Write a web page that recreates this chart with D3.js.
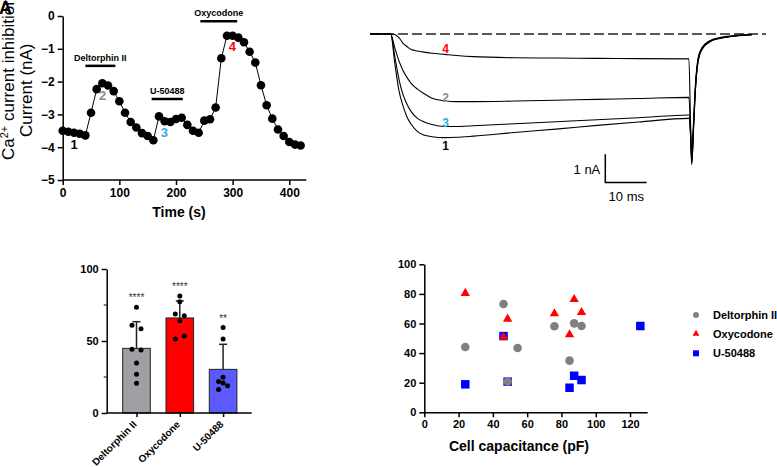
<!DOCTYPE html>
<html><head><meta charset="utf-8">
<script src="https://cdn.jsdelivr.net/npm/d3@7"></script>
<style>
body{margin:0;background:#fff;}
svg{display:block;font-family:"Liberation Sans",Arial,sans-serif;}
</style></head><body>
<svg id="c" width="777" height="467"></svg>
<script>
// ---------- Panel A: time course ----------
const timeS = [0,10,20,30,40,50,60,70,80,90,100,110,120,130,140,150,160,170,180,190,200,210,220,230,240,250,260,270,280,290,300,310,320,330,340,350,360,370,380,390,400,410,420];
const currentNA = [-3.50,-3.53,-3.56,-3.59,-3.64,-2.95,-2.23,-2.05,-2.12,-2.29,-2.60,-2.95,-3.23,-3.40,-3.57,-3.66,-3.79,-3.06,-3.21,-3.23,-3.14,-3.10,-3.32,-3.50,-3.56,-3.19,-3.15,-2.79,-1.29,-0.60,-0.60,-0.66,-0.80,-1.09,-1.42,-2.11,-2.72,-3.13,-3.46,-3.66,-3.84,-3.92,-3.95];
const drugNames = ["Deltorphin II","U-50488","Oxycodone"];
const drugStart = [40,157,243];
const drugEnd = [93,212,308];
const drugLevel = [-1.52,-2.53,-0.16];
const timeTicks = [0,100,200,300,400];
const currentTicks = [0,-1,-2,-3,-4,-5];
const markLabels = ["1","2","3","4"];
const markTimes = [20,70.6,179.3,299.4];
const markValues = [-4.04,-2.56,-3.68,-1.07];

// ---------- Panel B: current traces ----------
const traceTime = [-5,0,1,2,3,4,5,6.5,8,10,13,16,20,30,40,50,60,72.2,72.6,72.9,73.3,73.8,74.5,75.5,77.5,80,84,87.5];
const trace1 = [0,0,-1.05,-2.0,-2.55,-2.95,-3.2,-3.45,-3.57,-3.63,-3.66,-3.65,-3.61,-3.48,-3.36,-3.23,-3.11,-2.98,-3.6,-4.62,-3.45,-1.95,-0.92,-0.52,-0.26,-0.15,-0.06,-0.03];
const trace2 = [0,0,-0.5,-0.95,-1.3,-1.55,-1.75,-1.95,-2.1,-2.27,-2.36,-2.39,-2.39,-2.37,-2.34,-2.31,-2.28,-2.24,-3.4,-4.5,-3.3,-1.85,-0.85,-0.48,-0.24,-0.14,-0.05,-0.02];
const trace3 = [0,0,-0.8,-1.6,-2.15,-2.5,-2.75,-2.98,-3.1,-3.2,-3.27,-3.27,-3.24,-3.17,-3.1,-3.03,-2.96,-2.86,-3.5,-4.56,-3.38,-1.9,-0.88,-0.5,-0.25,-0.14,-0.06,-0.02];
const trace4 = [0,0,-0.02,-0.13,-0.33,-0.45,-0.55,-0.6,-0.64,-0.68,-0.72,-0.76,-0.8,-0.84,-0.85,-0.86,-0.87,-0.88,-3.1,-4.4,-3.2,-1.75,-0.8,-0.45,-0.22,-0.12,-0.05,-0.02];
const traceLabels = ["1","2","3","4"];
const traceLabelValues = [-3.94,-2.25,-3.12,-0.5];

// ---------- Panel C: bar chart ----------
const barCategories = ["Deltorphin II","Oxycodone","U-50488"];
const barMeans = [44.9,66.0,30.3];
const barSD = [18.5,11.8,17.4];
const barStars = ["****","****","**"];
const dotsDeltorphin = [73.4,60.9,58.5,44.2,43.8,34.7,26.9,20.6];
const dotsOxycodone = [81.2,77.3,68.7,67.6,64.1,53.5,51.4];
const dotsU50488 = [59.3,51.4,24.8,21.8,20.8,19.0,16.4];
const sideDeltorphin = [0,-1,1,-1,1,0,0,0];
const sideOxycodone = [0,0,-1,1,0,1,-1];
const sideU50488 = [0,0,0,-1,0,1,-1];
const barTicks = [0,50,100];

// ---------- Panel D: scatter ----------
const capDeltorphin = [23.9,46.2,54.4,75.9,87.4,91.7,84.7,48.6];
const inhDeltorphin = [44.1,73.2,43.4,58.1,60.1,58.3,34.9,20.7];
const capOxycodone = [23.9,48.6,46.2,75.9,87.4,91.7,84.7];
const inhOxycodone = [81.1,63.7,51.5,67.4,77.0,68.2,53.2];
const capU50488 = [23.9,46.2,48.6,84.7,87.4,91.7,126.0];
const inhU50488 = [18.9,51.5,20.7,16.6,24.7,21.8,58.3];
const capTicks = [0,20,40,60,80,100,120];
const inhTicks = [0,20,40,60,80,100];

const svg = d3.select("#c");
const FONT = '"Liberation Sans",Arial,sans-serif';
const fmtMinus = d => d < 0 ? "\u2212" + Math.abs(d) : String(d);

function styleAxis(g, fs){
  g.selectAll("path.domain").attr("stroke","#000").attr("stroke-width",1.5);
  g.selectAll(".tick line").attr("stroke","#000").attr("stroke-width",1.5);
  g.selectAll(".tick text").attr("font-family",FONT).attr("font-weight","bold").attr("font-size",fs).attr("fill","#000");
}

// ===== Panel A =====
const xT = d3.scaleLinear().domain([0,400]).range([62.7,289.3]);
const yT = d3.scaleLinear().domain([-5,0]).range([180,16]);
const gA = svg.append("g");
const axA_x = gA.append("g").attr("transform",`translate(0,${yT(-5)})`)
  .call(d3.axisBottom(xT).tickValues(timeTicks).tickSize(5).tickPadding(3).tickSizeOuter(0));
axA_x.select("path.domain").attr("d",`M${xT(0)},0H${xT(430)}`);
styleAxis(axA_x,12);
const axA_y = gA.append("g").attr("transform",`translate(${xT(0)},0)`)
  .call(d3.axisLeft(yT).tickValues(currentTicks).tickFormat(fmtMinus).tickSize(5).tickPadding(3).tickSizeOuter(0));
styleAxis(axA_y,12);

gA.append("path").datum(timeS.map((t,i)=>[t,currentNA[i]]))
  .attr("d",d3.line().x(d=>xT(d[0])).y(d=>yT(d[1])))
  .attr("fill","none").attr("stroke","#000").attr("stroke-width",1);
gA.selectAll("circle.tc").data(timeS.map((t,i)=>[t,currentNA[i]])).enter().append("circle")
  .attr("cx",d=>xT(d[0])).attr("cy",d=>yT(d[1])).attr("r",4.3).attr("fill","#000");

drugNames.forEach((n,i)=>{
  gA.append("line").attr("x1",xT(drugStart[i])).attr("x2",xT(drugEnd[i]))
    .attr("y1",yT(drugLevel[i])).attr("y2",yT(drugLevel[i])).attr("stroke","#000").attr("stroke-width",2.5);
  gA.append("text").attr("x",(xT(drugStart[i])+xT(drugEnd[i]))/2).attr("y",yT(drugLevel[i])-5)
    .attr("text-anchor","middle").attr("font-size",9).attr("font-weight","bold").text(n);
});
const markColors = ["#000","#8c8c8c","#29abe2","#ff0000"];
markLabels.forEach((m,i)=>{
  gA.append("text").attr("x",xT(markTimes[i])).attr("y",yT(markValues[i])).attr("text-anchor","middle")
    .attr("font-size",13).attr("font-weight","bold").attr("fill",markColors[i]).text(m);
});
gA.append("text").attr("x",179).attr("y",217).attr("text-anchor","middle")
  .attr("font-size",14).attr("font-weight","bold").text("Time (s)");
// overlapped y labels (as in reference)
gA.append("text").attr("transform","translate(13.5,160) rotate(-90)").attr("font-size",17).attr("fill","#000")
  .html('Ca<tspan dy="-6" font-size="11">2+</tspan><tspan dy="6"> current inhibition (%)</tspan>');
gA.append("text").attr("transform","translate(31.5,137) rotate(-90)").attr("font-size",17).attr("fill","#000")
  .text("Current (nA)");
gA.append("text").attr("x",-1).attr("y",14).attr("font-size",18).attr("font-weight","bold").text("A");

// ===== Panel B =====
const xR = d3.scaleLinear().domain([0,10]).range([390.7,432]);
const yR = d3.scaleLinear().domain([-1,0]).range([62.3,34]);
const gB = svg.append("g");
gB.append("line").attr("x1",370).attr("x2",766).attr("y1",yR(0)).attr("y2",yR(0))
  .attr("stroke","#222").attr("stroke-width",1.5).attr("stroke-dasharray","10,4");
const traces = [trace1,trace2,trace3,trace4];
const lineR = d3.line().x(d=>xR(d[0])).y(d=>yR(d[1])).curve(d3.curveMonotoneX);
traces.forEach(tr=>{
  gB.append("path").datum(traceTime.map((t,i)=>[t,tr[i]])).attr("d",lineR)
    .attr("fill","none").attr("stroke","#000").attr("stroke-width",1.1);
});
traceLabels.forEach((l,i)=>{
  gB.append("text").attr("x",xR(13.3)).attr("y",yR(traceLabelValues[i])+4.5).attr("text-anchor","middle")
    .attr("font-size",12).attr("font-weight","bold").attr("fill",markColors[i]).text(l);
});
// scale bar
const sbX = 605.3, sbY = yR(-5.25);
gB.append("path").attr("d",`M${sbX},${sbY-(yR(-1)-yR(0))}V${sbY}H${sbX+(xR(10)-xR(0))}`)
  .attr("fill","none").attr("stroke","#000").attr("stroke-width",1.5);
gB.append("text").attr("x",sbX-5).attr("y",sbY-9).attr("text-anchor","end").attr("font-size",13).text("1 nA");
gB.append("text").attr("x",sbX+21).attr("y",sbY+18).attr("text-anchor","middle").attr("font-size",13).text("10 ms");

// ===== Panel C =====
const xB = d3.scalePoint().domain(barCategories).range([136.5,223.1]);
const yB = d3.scaleLinear().domain([0,100]).range([413,269]);
const gC = svg.append("g");
const barColors = ["#9f9fa5","#ff0000","#5a5aff"];
const bw = 27.6;
const dotSets = [[dotsDeltorphin,sideDeltorphin],[dotsOxycodone,sideOxycodone],[dotsU50488,sideU50488]];
barCategories.forEach((c,i)=>{
  const cx = xB(c);
  gC.append("line").attr("x1",cx).attr("x2",cx).attr("y1",yB(barMeans[i])).attr("y2",yB(barMeans[i]+barSD[i]))
    .attr("stroke","#222").attr("stroke-width",1.5);
  gC.append("line").attr("x1",cx-4).attr("x2",cx+4).attr("y1",yB(barMeans[i]+barSD[i])).attr("y2",yB(barMeans[i]+barSD[i]))
    .attr("stroke","#222").attr("stroke-width",1.5);
  gC.append("rect").attr("x",cx-bw/2).attr("y",yB(barMeans[i])).attr("width",bw).attr("height",yB(0)-yB(barMeans[i]))
    .attr("fill",barColors[i]).attr("stroke","#222").attr("stroke-width",1);
  const top = Math.max(d3.max(dotSets[i][0]), barMeans[i]+barSD[i]);
  gC.append("text").attr("x",cx).attr("y",yB(top)-6).attr("text-anchor","middle")
    .attr("font-size",10).attr("fill","#333").text(barStars[i]);
});
dotSets.forEach((ds,i)=>{
  const cx = xB(barCategories[i]);
  gC.selectAll(null).data(ds[0]).enter().append("circle")
    .attr("cx",(d,j)=>cx+ds[1][j]*4.5).attr("cy",d=>yB(d)).attr("r",2.5).attr("fill","#000");
});
const axC_y = gC.append("g").attr("transform","translate(106.7,0)")
  .call(d3.axisLeft(yB).tickValues(barTicks).tickSize(5).tickPadding(3).tickSizeOuter(0));
styleAxis(axC_y,11);
axC_y.append("g").selectAll("line").data([25,75]).enter().append("line")
  .attr("x1",-3).attr("x2",0).attr("y1",d=>yB(d)).attr("y2",d=>yB(d)).attr("stroke","#000").attr("stroke-width",1);
const axC_x = gC.append("g").attr("transform",`translate(0,${yB(0)})`)
  .call(d3.axisBottom(xB).tickSize(4).tickSizeOuter(0).tickFormat(""));
axC_x.select("path.domain").attr("d","M106.7,0H251.7");
styleAxis(axC_x,10);
const k = Math.SQRT1_2;
barCategories.forEach(c=>{
  const lx = xB(c)+1, ly = yB(0)+12;
  const t = gC.append("text").attr("x",0).attr("y",0)
    .attr("font-size",10).attr("font-weight","bold").text(c);
  const L = t.node().getComputedTextLength();
  t.attr("transform",`translate(${lx - L*k},${ly + L*k}) rotate(-45)`);
});

// ===== Panel D =====
const xS = d3.scaleLinear().domain([0,130]).range([424.3,647.2]);
const yS = d3.scaleLinear().domain([0,100]).range([412.3,264.3]);
const gD = svg.append("g");
const axD_x = gD.append("g").attr("transform",`translate(0,${yS(0)})`)
  .call(d3.axisBottom(xS).tickValues(capTicks).tickSize(5).tickPadding(3).tickSizeOuter(0));
styleAxis(axD_x,11);
const axD_y = gD.append("g").attr("transform",`translate(${xS(0)},0)`)
  .call(d3.axisLeft(yS).tickValues(inhTicks).tickSize(5).tickPadding(3).tickSizeOuter(0));
styleAxis(axD_y,11);
gD.append("text").attr("x",519).attr("y",451).attr("text-anchor","middle")
  .attr("font-size",14).attr("font-weight","bold").text("Cell capacitance (pF)");

const sq = 8.5;
gD.selectAll("rect.u").data(capU50488.map((c,i)=>[c,inhU50488[i]])).enter().append("rect")
  .attr("x",d=>xS(d[0])-sq/2).attr("y",d=>yS(d[1])-sq/2).attr("width",sq).attr("height",sq).attr("fill","#0000ff");
gD.selectAll("circle.d").data(capDeltorphin.map((c,i)=>[c,inhDeltorphin[i]])).enter().append("circle")
  .attr("cx",d=>xS(d[0])).attr("cy",d=>yS(d[1])).attr("r",4.3).attr("fill","#808080");
const tri = d3.symbol().type(d3.symbolTriangle).size(38);
gD.selectAll("path.o").data(capOxycodone.map((c,i)=>[c,inhOxycodone[i]])).enter().append("path")
  .attr("d",tri).attr("transform",d=>`translate(${xS(d[0])},${yS(d[1])+1})`).attr("fill","#ff0000");

// legend
const legNames = ["Deltorphin II","Oxycodone","U-50488"];
const legY = [315,333.7,353.3];
legNames.forEach((n,i)=>{
  if(i===0) gD.append("circle").attr("cx",696).attr("cy",legY[i]).attr("r",3).attr("fill","#808080");
  if(i===1) gD.append("path").attr("d",d3.symbol().type(d3.symbolTriangle).size(20)).attr("transform",`translate(696,${legY[i]})`).attr("fill","#ff0000");
  if(i===2) gD.append("rect").attr("x",693).attr("y",legY[i]-3).attr("width",6).attr("height",6).attr("fill","#0000ff");
  gD.append("text").attr("x",713).attr("y",legY[i]+4).attr("font-size",11).attr("font-weight","bold").text(n);
});
</script></body></html>
